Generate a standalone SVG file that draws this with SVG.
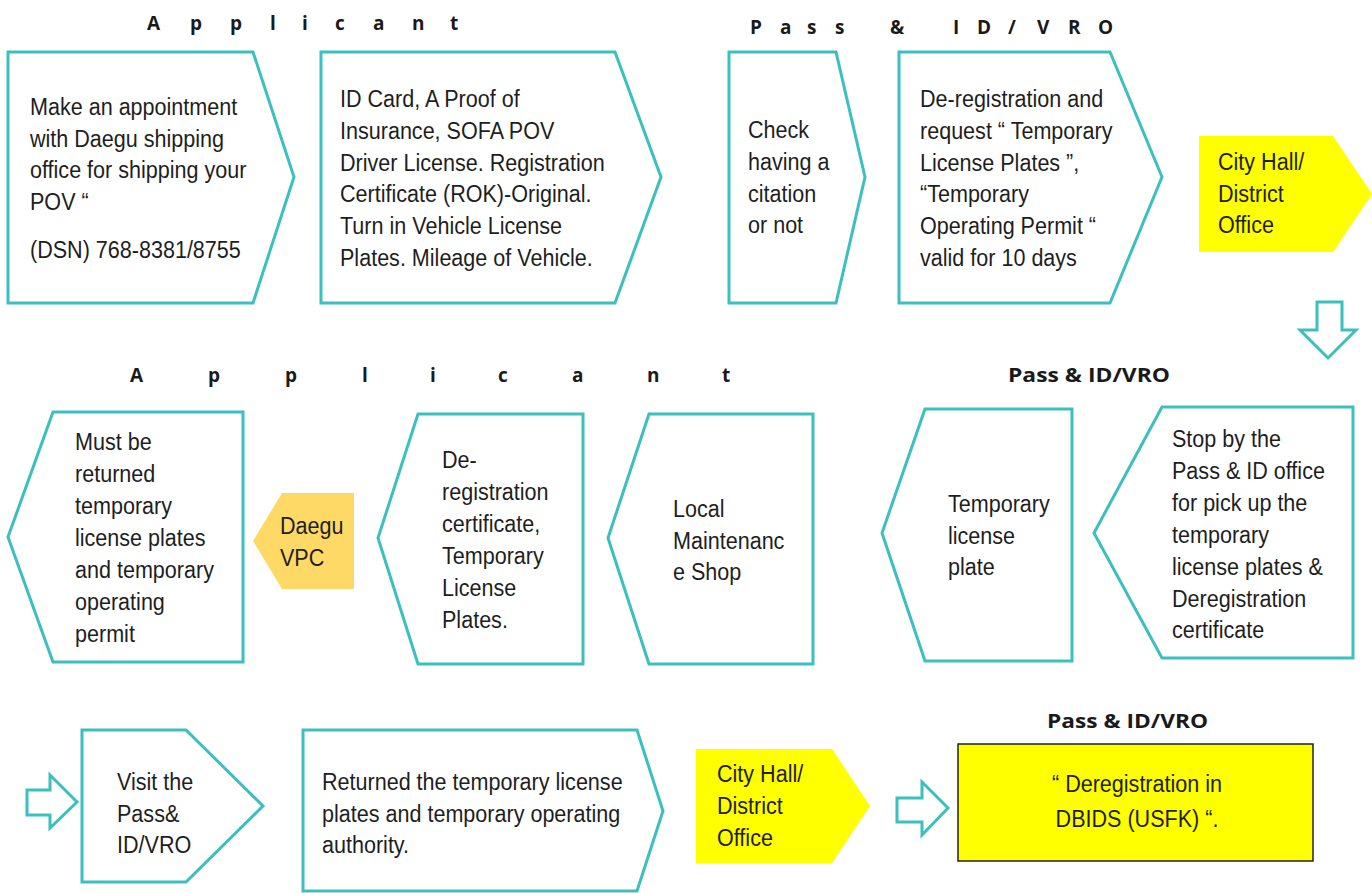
<svg xmlns="http://www.w3.org/2000/svg" width="1372" height="893" viewBox="0 0 1372 893">
<style>
.box{fill:#ffffff;stroke:#3cbfbf;stroke-width:3;stroke-linejoin:miter}
.arr{fill:#ffffff;stroke:#3cbfbf;stroke-width:3}
.yel{fill:#ffff00}
.gold{fill:#ffd966}
.t{font-family:"Liberation Sans",Arial,sans-serif;font-size:24.5px;fill:#1e1e1e}
.h{font-family:"Open Sans","Liberation Sans",sans-serif;font-weight:bold;font-size:19px;fill:#1a1a1a}
</style>
<rect width="1372" height="893" fill="#ffffff"/>
<g id="headers">
<text class="h" x="147 190 230 270 302 335 373 412 450" y="30">Applicant</text>
<text class="h" x="750 780 807 835 890 953 977 1008 1037 1068 1098" y="34">Pass&amp;ID/VRO</text>
<text class="h" x="130 208 285 362 430 498 572 647 722" y="382">Applicant</text>
<text class="h" x="1008" y="382" textLength="162" lengthAdjust="spacingAndGlyphs">Pass &amp; ID/VRO</text>
<text class="h" x="1047" y="728" textLength="161" lengthAdjust="spacingAndGlyphs">Pass &amp; ID/VRO</text>
</g>
<g id="connectors">
<polygon class="arr" points="1317,302 1342,302 1342,330 1356,330 1328,358 1300,330 1317,330"/>
<polygon class="arr" points="27,790 50,790 50,775 77,802 50,828 50,815 27,815"/>
<polygon class="arr" points="897,798 922,798 922,782 948,808 922,835 922,822 897,822"/>
</g>
<g id="n1">
<polygon class="box" points="8,52 253,52 294,177 253,303 8,303"/>
<text class="t" transform="translate(30,0) scale(0.88,1)"><tspan x="0" y="115">Make an appointment</tspan><tspan x="0" y="147">with Daegu shipping</tspan><tspan x="0" y="178">office for shipping your</tspan><tspan x="0" y="210">POV “</tspan><tspan x="0" y="258">(DSN) 768-8381/8755</tspan></text>
</g>
<g id="n2">
<polygon class="box" points="321,52 615,52 661,177 615,303 321,303"/>
<text class="t" transform="translate(340,0) scale(0.88,1)"><tspan x="0" y="107">ID Card, A Proof of</tspan><tspan x="0" y="139">Insurance, SOFA POV</tspan><tspan x="0" y="171">Driver License. Registration</tspan><tspan x="0" y="202">Certificate (ROK)-Original.</tspan><tspan x="0" y="234">Turn in Vehicle License</tspan><tspan x="0" y="266">Plates. Mileage of Vehicle.</tspan></text>
</g>
<g id="n3">
<polygon class="box" points="729,52 836,52 865,177 836,303 729,303"/>
<text class="t" transform="translate(748,0) scale(0.88,1)"><tspan x="0" y="138">Check</tspan><tspan x="0" y="170">having a</tspan><tspan x="0" y="202">citation</tspan><tspan x="0" y="233">or not</tspan></text>
</g>
<g id="n4">
<polygon class="box" points="899,52 1110,52 1162,177 1110,303 899,303"/>
<text class="t" transform="translate(920,0) scale(0.88,1)"><tspan x="0" y="107">De-registration and</tspan><tspan x="0" y="139">request “ Temporary</tspan><tspan x="0" y="171">License Plates ”,</tspan><tspan x="0" y="202">“Temporary</tspan><tspan x="0" y="234">Operating Permit “</tspan><tspan x="0" y="266">valid for 10 days</tspan></text>
</g>
<g id="n5">
<polygon class="yel" points="1199,136 1333,136 1372,194 1333,252 1199,252"/>
<text class="t" transform="translate(1218,0) scale(0.88,1)"><tspan x="0" y="170">City Hall/</tspan><tspan x="0" y="202">District</tspan><tspan x="0" y="233">Office</tspan></text>
</g>
<g id="n6">
<polygon class="box" points="1162,407 1353,407 1353,658 1162,658 1094,533"/>
<text class="t" transform="translate(1172,0) scale(0.88,1)"><tspan x="0" y="447">Stop by the</tspan><tspan x="0" y="479">Pass &amp; ID office</tspan><tspan x="0" y="511">for pick up the</tspan><tspan x="0" y="543">temporary</tspan><tspan x="0" y="575">license plates &amp;</tspan><tspan x="0" y="607">Deregistration</tspan><tspan x="0" y="638">certificate</tspan></text>
</g>
<g id="n7">
<polygon class="box" points="925,409 1072,409 1072,661 925,661 882,533"/>
<text class="t" transform="translate(948,0) scale(0.88,1)"><tspan x="0" y="512">Temporary</tspan><tspan x="0" y="544">license</tspan><tspan x="0" y="575">plate</tspan></text>
</g>
<g id="n8">
<polygon class="box" points="649,414 813,414 813,664 649,664 608,538"/>
<text class="t" transform="translate(673,0) scale(0.88,1)"><tspan x="0" y="517">Local</tspan><tspan x="0" y="549">Maintenanc</tspan><tspan x="0" y="580">e Shop</tspan></text>
</g>
<g id="n9">
<polygon class="box" points="418,414 583,414 583,664 418,664 378,538"/>
<text class="t" transform="translate(442,0) scale(0.88,1)"><tspan x="0" y="468">De-</tspan><tspan x="0" y="500">registration</tspan><tspan x="0" y="532">certificate,</tspan><tspan x="0" y="564">Temporary</tspan><tspan x="0" y="596">License</tspan><tspan x="0" y="628">Plates.</tspan></text>
</g>
<g id="n10">
<polygon class="gold" points="282,493 354,493 354,589 282,589 253,541"/>
<text class="t" transform="translate(280,0) scale(0.88,1)"><tspan x="0" y="534">Daegu</tspan><tspan x="0" y="566">VPC</tspan></text>
</g>
<g id="n11">
<polygon class="box" points="53,412 243,412 243,662 53,662 8,537"/>
<text class="t" transform="translate(75,0) scale(0.88,1)"><tspan x="0" y="450">Must be</tspan><tspan x="0" y="482">returned</tspan><tspan x="0" y="514">temporary</tspan><tspan x="0" y="546">license plates</tspan><tspan x="0" y="578">and temporary</tspan><tspan x="0" y="610">operating</tspan><tspan x="0" y="642">permit</tspan></text>
</g>
<g id="n12">
<polygon class="box" points="82,730 186,730 263,806 186,882 82,882"/>
<text class="t" transform="translate(117,0) scale(0.88,1)"><tspan x="0" y="790">Visit the</tspan><tspan x="0" y="822">Pass&amp;</tspan><tspan x="0" y="853">ID/VRO</tspan></text>
</g>
<g id="n13">
<polygon class="box" points="303,730 637,730 663,811 637,891 303,891"/>
<text class="t" transform="translate(322,0) scale(0.88,1)"><tspan x="0" y="790">Returned the temporary license</tspan><tspan x="0" y="822">plates and temporary operating</tspan><tspan x="0" y="853">authority.</tspan></text>
</g>
<g id="n14">
<polygon class="yel" points="696,749 832,749 870,806 832,863 696,863"/>
<text class="t" transform="translate(717,0) scale(0.88,1)"><tspan x="0" y="782">City Hall/</tspan><tspan x="0" y="814">District</tspan><tspan x="0" y="846">Office</tspan></text>
</g>
<g id="n15">
<rect x="958" y="744" width="355" height="117" fill="#ffff00" stroke="#222222" stroke-width="1.5"/>
<text class="t" text-anchor="middle" transform="translate(1137,0) scale(0.88,1)"><tspan x="0" y="792">“ Deregistration in</tspan><tspan x="0" y="827">DBIDS (USFK) “.</tspan></text>
</g>
</svg>
